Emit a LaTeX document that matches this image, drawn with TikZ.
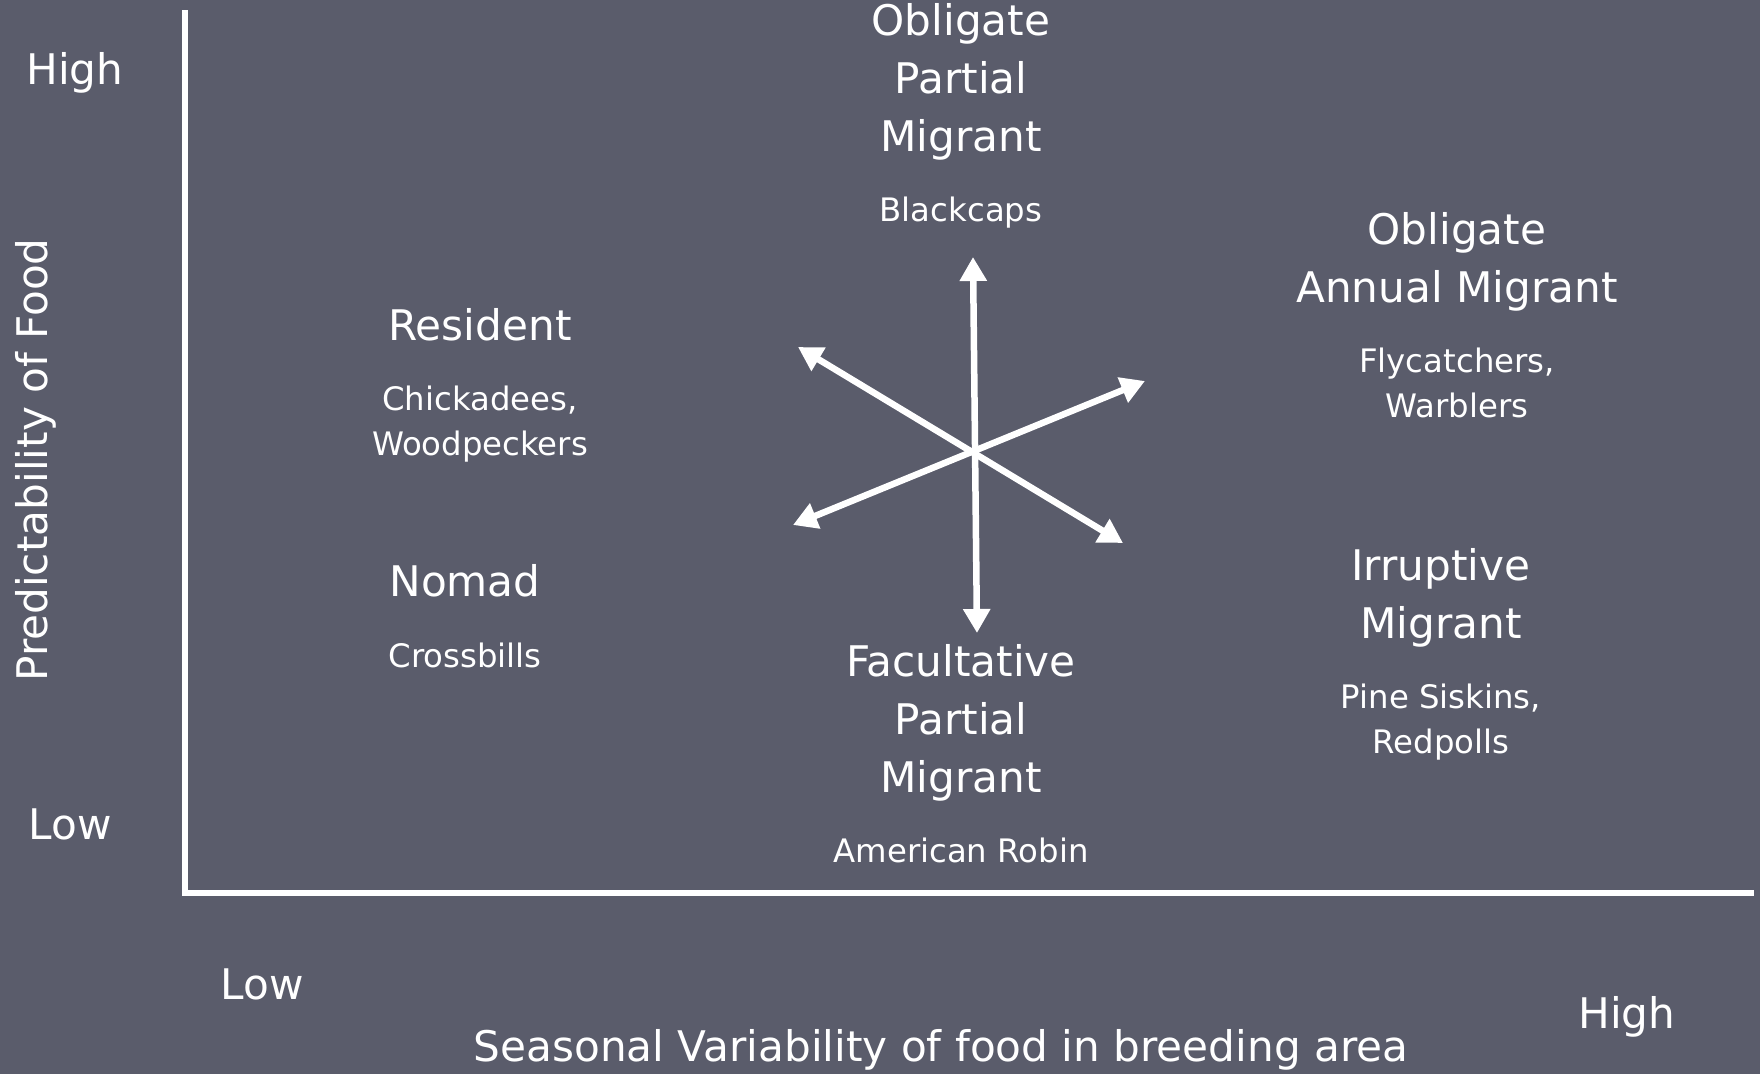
\documentclass[tikz,border=0pt]{standalone}
\usepackage{fontspec}
\setmainfont{DejaVu Sans}
\usepackage{tikz}
\usetikzlibrary{arrows.meta}
\definecolor{slate}{RGB}{90,92,107}
\tikzstyle{head}=[text=white,align=center,inner sep=0pt,font=\fontsize{12}{16.5}\selectfont]
\tikzstyle{example}=[text=white,align=center,inner sep=0pt,font=\fontsize{9.2}{12.7}\selectfont]
\tikzstyle{axis} = [solid,white,draw,line width=0.06cm,line cap=rect]
\tikzstyle{twoway} = [solid,white,draw,line width=0.065cm,{Triangle[length=0.24cm,width=0.26cm]}-{Triangle[length=0.24cm,width=0.26cm]}]
\begin{document}
\begin{tikzpicture}
	\fill[slate] (0,0) rectangle (17.6,-10.74);
	\useasboundingbox (0,0) rectangle (17.6,-10.74);
	\coordinate (ytop) at (1.85,-0.13);
	\coordinate (origin) at (1.85,-8.93);
	\coordinate (xend) at (17.51,-8.93);
	\path[axis] (ytop) -- (origin) -- (xend);
	\node[head] (yhigh) at (0.75,-0.73) {High};
	\node[head] (ylow) at (0.70,-8.24) {Low};
	\node[head,rotate=90] (ylabel) at (0.36,-4.60) {Predictability of Food};
	\node[head] (xlow) at (2.62,-9.84) {Low};
	\node[head] (xhigh) at (16.27,-10.17) {High};
	\node[head] (xlabel) at (9.41,-10.50) {Seasonal Variability of food in breeding area};
	\node[head] (opm) at (9.61,-0.82) {Obligate\\Partial\\Migrant};
	\node[example] (opmex) at (9.61,-2.13) {Blackcaps};
	\node[head] (resident) at (4.80,-3.25) {Resident};
	\node[example] (residentex) at (4.80,-4.24) {Chickadees,\\Woodpeckers};
	\node[head] (nomad) at (4.65,-5.81) {Nomad};
	\node[example] (nomadex) at (4.65,-6.55) {Crossbills};
	\node[head] (fpm) at (9.61,-7.23) {Facultative\\Partial\\Migrant};
	\node[example] (fpmex) at (9.61,-8.50) {American Robin};
	\node[head] (oam) at (14.57,-2.62) {Obligate\\Annual Migrant};
	\node[example] (oamex) at (14.57,-3.83) {Flycatchers,\\Warblers};
	\node[head] (irr) at (14.41,-5.98) {Irruptive\\Migrant};
	\node[example] (irrex) at (14.41,-7.22) {Pine Siskins,\\Redpolls};
	\coordinate (up) at (9.73,-2.57);
	\coordinate (down) at (9.77,-6.33);
	\coordinate (ul) at (7.98,-3.47);
	\coordinate (lr) at (11.23,-5.43);
	\coordinate (ur) at (11.45,-3.81);
	\coordinate (ll) at (7.93,-5.25);
	\path[twoway] (up) -- (down);
	\path[twoway] (ul) -- (lr);
	\path[twoway] (ur) -- (ll);
\end{tikzpicture}
\end{document}
